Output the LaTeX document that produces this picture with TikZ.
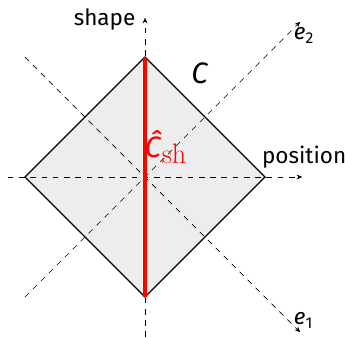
\documentclass[tikz,border=0pt]{standalone}
\usepackage[no-math]{fontspec}
\setmainfont{Fira Sans}
\newfontfamily\subfont{Latin Modern Roman}
\usetikzlibrary{arrows.meta}

\begin{document}
\begin{tikzpicture}[>={Stealth[length=4pt,width=3.5pt]}, x=1cm, y=1cm,
  axis/.style={->, dash pattern=on 4pt off 4pt, line width=0.5pt},
  every node/.style={font=\fontsize{16}{19}\selectfont}]
  %--- parameters to tweak layout easily
  \def\r{3}            % half diagonal of the square C
  \def\lx{3.43}        % left end of position axis
  \def\rx{3.93}        % right end of position axis
  \def\by{4.0}         % bottom end of shape axis
  \def\ty{3.98}        % top end of shape axis
  \def\d{3}            % start of diagonals
  \def\e{3.88}         % end of diagonals

  %--- fixed frame
  \useasboundingbox (-3.625,-4.025) rectangle (5.0,4.425);

  %--- square C
  \coordinate (top) at (0,\r);
  \coordinate (bot) at (0,-\r);
  \coordinate (lft) at (-\r,0);
  \coordinate (rgt) at (\r,0);
  \filldraw[fill=black!7, line width=0.9pt, line join=miter] (top) -- (rgt) -- (bot) -- (lft) -- cycle;

  %--- axes
  \coordinate (posL) at (-\lx,0);
  \coordinate (posR) at (\rx,0);
  \coordinate (shB) at (0,-\by);
  \coordinate (shT) at (0,\ty);
  \coordinate (eA) at (-\d,\d);
  \coordinate (eB) at (\e,-\e);
  \coordinate (fA) at (-\d,-\d);
  \coordinate (fB) at (\e,\e);
  \draw[axis] (posL) -- (posR);
  \draw[axis] (shB) -- (shT);
  \draw[axis] (eA) -- (eB);
  \draw[axis] (fA) -- (fB);

  %--- red segment
  \draw[red, line width=2.5pt] (bot) -- (top);

  %--- labels
  \node[anchor=south east, inner sep=1pt] (shlab) at (-0.2,\ty-0.35) {shape};
  \node[anchor=south, inner sep=2pt] (poslab) at (\rx+0.05,0.15) {position};
  \node[anchor=north west, inner sep=1pt] (e2lab) at (\e-0.2,\e-0.1) {\textit{e}\textsubscript{2}};
  \node[anchor=south west, inner sep=1pt] (e1lab) at (\e-0.2,-\e+0.05) {\textit{e}\textsubscript{1}};
  \node[font=\fontsize{21}{24}\selectfont] (clab) at (1.375,2.6) {\textit{C}};
  \node[red, font=\fontsize{21}{24}\selectfont, anchor=west, inner sep=1pt] (chat) at (-0.05,0.75)
    {\textit{\^{C}}\raisebox{-4pt}{\subfont\fontsize{20}{23}\selectfont sh}};
\end{tikzpicture}
\end{document}
